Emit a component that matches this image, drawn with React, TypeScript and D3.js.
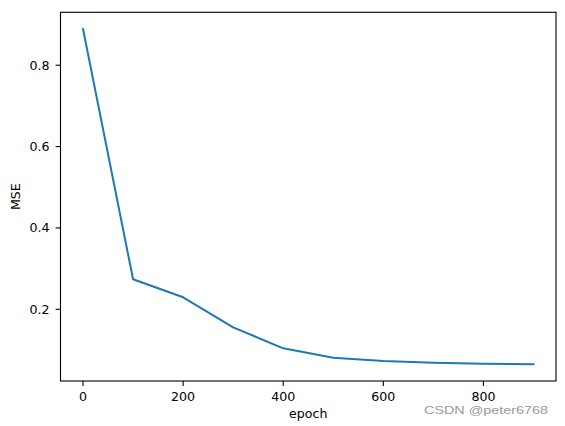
import React from "react";
import * as d3 from "d3";

const epochs = [0, 100, 200, 300, 400, 500, 600, 700, 800, 900];
const mse = [0.889, 0.2738, 0.2295, 0.1557, 0.104, 0.081, 0.0729, 0.0687, 0.0663, 0.0649];
const xTicks = [0, 200, 400, 600, 800];
const yTicks = [0.2, 0.4, 0.6, 0.8];

const W = 565, H = 426;
const left = 60.5, right = 556, top = 12.3, bottom = 381;
const FONT = "DejaVu Sans, sans-serif";
const FS = 12.6;

export default function App() {
  const x = d3.scaleLinear().domain([-45, 945]).range([left, right]);
  const ymin = d3.min(mse)!, ymax = d3.max(mse)!;
  const pad = (ymax - ymin) * 0.05;
  const y = d3.scaleLinear().domain([ymin - pad, ymax + pad]).range([bottom, top]);
  const line = d3.line<number>().x((_, i) => x(epochs[i])).y((d) => y(d));
  return (
    <svg width={W} height={H} style={{ position: "absolute", left: 0, top: 0, background: "#fff" }}>
      <rect x={0} y={0} width={W} height={H} fill="#fff" />
      <path d={line(mse)!} fill="none" stroke="#1f77b4" strokeWidth={2} strokeLinejoin="round" strokeLinecap="square" />
      <rect x={left} y={top} width={right - left} height={bottom - top} fill="none" stroke="#000" strokeWidth={1.1} />
      {xTicks.map((t) => (
        <g key={t}>
          <line x1={x(t)} x2={x(t)} y1={bottom} y2={bottom + 4.9} stroke="#000" strokeWidth={1.1} />
          <text x={x(t)} y={401} textAnchor="middle" fontFamily={FONT} fontSize={FS} fill="#000">{t}</text>
        </g>
      ))}
      {yTicks.map((t) => (
        <g key={t}>
          <line x1={left - 4.9} x2={left} y1={y(t)} y2={y(t)} stroke="#000" strokeWidth={1.1} />
          <text x={49.5} y={y(t)} dy="0.36em" textAnchor="end" fontFamily={FONT} fontSize={FS} fill="#000">{t.toFixed(1)}</text>
        </g>
      ))}
      <text x={(left + right) / 2} y={418} textAnchor="middle" fontFamily={FONT} fontSize={FS} fill="#000">epoch</text>
      <text transform={`translate(20,${(top + bottom) / 2}) rotate(-90)`} textAnchor="middle" fontFamily={FONT} fontSize={FS} fill="#000">MSE</text>
      <text x={424} y={414} textLength={124} lengthAdjust="spacingAndGlyphs" fontFamily="Liberation Sans, Arial, sans-serif" fontSize={10.5} fill="#9a9a9a">CSDN @peter6768</text>
    </svg>
  );
}
